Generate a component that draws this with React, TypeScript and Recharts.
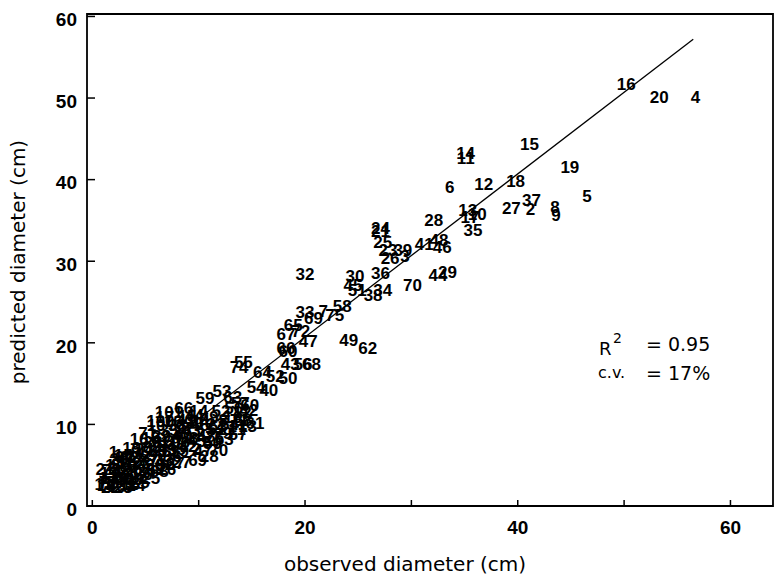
import React from 'react';
import { ScatterChart, Scatter, XAxis, YAxis, ReferenceLine, ReferenceArea } from 'recharts';

const AXIS_FONT = '"DejaVu Sans", sans-serif';
const TICK_FONT = '"Liberation Sans", Arial, sans-serif';
const LABEL_FONT = '"Liberation Sans", Arial, sans-serif';

// tree identifiers (printed as point labels)
const treeIds = [
  '16', '20', '4', '15', '19', '5', '18', '37', '27', '2', '8', '9', '14', '11', '6', '12', '13', '10', '17', '35',
  '28', '21', '24', '25', '23', '39', '26', '3', '41', '48', '46', '32', '30', '36', '45', '51', '38', '34', '70', '44',
  '29', '58', '33', '69', '7', '75', '65', '67', '72', '47', '66', '60', '49', '62', '55', '74', '43', '56', '68', '64',
  '52', '50', '54', '40', '53', '59', '63', '57', '42', '71', '31', '22', '76', '101', '100', '15', '25', '13', '12',
  '1', '19', '17', '11', '14', '13', '16', '12', '10', '18', '15', '20', '21', '22', '23', '24', '26', '27', '28', '30',
  '31', '32', '33', '34', '35', '36', '37', '38', '39', '40', '41', '42', '43', '44', '45', '46', '47', '48', '49', '50',
  '51', '52', '53', '54', '56', '57', '58', '60', '61', '10', '16', '64', '1', '66', '67', '68', '69', '70', '71',
  '77', '78', '79', '80', '81', '82', '83', '84', '85', '86', '87', '88', '89', '90', '91', '92', '93', '94', '95', '96',
  '97', '98', '99', '2', '3', '4', '5', '6', '7', '8', '9', '10', '11', '12', '13', '14', '15', '16', '17', '18',
  '19', '20', '21', '22', '23', '24', '25', '26', '27', '28',
];

// observed diameter (cm)
const observedDiameter = [
  50.2, 53.3, 56.7, 41.1, 44.9, 46.5, 39.8, 41.3, 39.4, 41.2, 43.5, 43.6, 35.1, 35.1, 33.6, 36.8, 35.3, 36.2, 35.5, 35.8,
  32.1, 27.1, 27.1, 27.3, 27.8, 29.2, 28.0, 29.4, 31.2, 32.6, 32.9, 20.0, 24.7, 27.1, 24.5, 24.9, 26.4, 27.3, 30.1, 32.5,
  33.4, 23.5, 20.0, 20.8, 21.7, 22.8, 18.9, 18.2, 19.6, 20.3, 18.2, 18.4, 24.1, 25.9, 14.2, 13.8, 18.6, 19.8, 20.6, 16.0,
  17.2, 18.4, 15.4, 16.6, 12.2, 10.6, 13.2, 13.9, 14.7, 13.8, 12.7, 11.6, 11.5, 7.2, 6.4, 2.9, 4.5, 1.1, 3.4,
  1.0, 1.3, 1.6, 1.9, 2.1, 2.3, 2.6, 2.8, 3.1, 3.3, 3.6, 3.8, 4.0, 4.3, 4.6, 4.9, 5.1, 5.4, 5.7, 5.9,
  6.2, 6.5, 6.7, 7.0, 7.2, 7.5, 7.7, 8.0, 8.2, 8.5, 8.8, 9.0, 9.3, 9.6, 9.8, 10.1, 10.4, 10.7, 11.0, 11.3,
  11.7, 12.1, 12.4, 12.9, 13.3, 13.7, 14.2, 14.8, 15.3, 6.0, 4.4, 3.0, 2.0, 8.6, 7.8, 6.3, 9.9, 11.9, 5.2,
  1.5, 1.8, 2.4, 2.7, 3.2, 3.5, 3.9, 4.2, 4.5, 4.8, 5.3, 5.6, 5.9, 6.1, 6.4, 6.9, 7.1, 7.4, 7.9, 8.3,
  8.7, 9.1, 9.5, 9.8, 10.2, 10.6, 10.9, 11.4, 11.8, 12.3, 12.7, 13.2, 13.6, 14.1, 14.6, 10.0, 8.9, 7.6, 6.8, 5.5,
  3.7, 2.5, 1.2, 1.7, 2.9, 4.1, 5.5, 7.0, 8.4, 11.0,
];

// predicted diameter (cm)
const predictedDiameter = [
  51.7, 50.2, 50.2, 44.4, 41.6, 38.0, 39.8, 37.5, 36.5, 36.4, 36.7, 35.7, 43.3, 42.7, 39.1, 39.5, 36.3, 35.8, 35.4, 33.8,
  35.1, 33.7, 34.1, 32.4, 31.4, 31.4, 30.4, 30.6, 32.1, 32.6, 31.8, 28.4, 28.2, 28.6, 27.1, 26.5, 25.9, 26.5, 27.1, 28.3,
  28.7, 24.5, 23.8, 23.1, 23.9, 23.4, 22.2, 21.1, 21.5, 20.2, 19.4, 19.0, 20.4, 19.4, 17.7, 17.1, 17.4, 17.4, 17.4, 16.4,
  15.9, 15.7, 14.6, 14.2, 14.1, 13.3, 13.4, 12.6, 11.8, 10.6, 9.8, 10.1, 8.5, 11.5, 10.4, 6.3, 2.9, 2.7, 2.7,
  3.4, 2.6, 4.1, 3.0, 5.0, 2.5, 3.8, 4.6, 3.3, 5.5, 2.7, 4.3, 6.2, 3.6, 5.3, 7.0, 4.4, 6.1, 7.9, 5.0,
  6.8, 8.6, 5.6, 7.4, 9.3, 6.2, 8.0, 10.0, 6.8, 8.7, 10.6, 7.4, 9.3, 11.2, 8.0, 9.9, 6.9, 8.6, 10.9, 7.7,
  9.4, 11.6, 8.2, 10.1, 12.0, 8.8, 10.5, 12.4, 10.2, 9.9, 8.2, 6.0, 6.6, 12.0, 5.3, 4.3, 5.6, 6.9, 9.0,
  3.0, 4.4, 3.4, 5.2, 4.0, 6.0, 3.3, 5.0, 6.6, 3.9, 5.6, 7.2, 4.6, 6.3, 7.9, 5.2, 6.9, 8.6, 7.0, 7.8,
  9.6, 8.3, 10.2, 7.0, 8.9, 10.4, 7.9, 9.8, 8.5, 10.6, 9.0, 10.9, 9.5, 11.5, 9.8, 11.6, 11.0, 10.4, 10.9, 8.4,
  7.1, 5.8, 4.5, 2.3, 2.4, 2.6, 3.5, 4.5, 5.4, 6.2,
];

const axisTicks = [0, 10, 20, 30, 40, 50, 60];
const xLabelTicks = [0, 20, 40, 60];
const xDomain: [number, number] = [-0.5, 64];
const yDomain: [number, number] = [0, 60.3];
const fitLineX = [1.5, 56.5];
const fitLineY = [2.2, 57.2];
const r2Value = '0.95';
const cvValue = '17%';
const xTitle = 'observed diameter (cm)';
const yTitle = 'predicted diameter (cm)';

const points = treeIds.map((id, i) => ({ id, x: observedDiameter[i], y: predictedDiameter[i] }));

const LabelShape = (props: any) => {
  const { cx, cy, payload } = props;
  return (
    <text x={cx} y={cy} dy="0.36em" textAnchor="middle" fontFamily={LABEL_FONT} fontSize={17}
      fontWeight="bold" fill="#000">
      {payload.id}
    </text>
  );
};

const X_MARGIN = 14;
const Y_MARGIN = 10;

const XTick = (props: any) => {
  const { x, y, payload } = props;
  const axisY = y - X_MARGIN;
  return (
    <g>
      <line x1={x} x2={x} y1={axisY} y2={axisY - 6} stroke="#000" strokeWidth={1.5} />
      {xLabelTicks.includes(payload.value) && (
        <text x={x} y={y} dy="0.72em" textAnchor="middle" fontFamily={TICK_FONT} fontSize={19}
          fontWeight="bold" fill="#000">
          {payload.value}
        </text>
      )}
    </g>
  );
};

const YTick = (props: any) => {
  const { x, y, payload } = props;
  const axisX = x + Y_MARGIN;
  return (
    <g>
      <line x1={axisX} x2={axisX + 8} y1={y} y2={y} stroke="#000" strokeWidth={1.5} />
      <text x={x} y={y + 3} dy="0.36em" textAnchor="end" fontFamily={TICK_FONT} fontSize={19}
        fontWeight="bold" fill="#000">
        {payload.value}
      </text>
    </g>
  );
};

export default function App() {
  return (
    <div style={{ position: 'absolute', left: 0, top: 0, width: 779, height: 583, background: '#fff' }}>
      <ScatterChart width={779} height={583} margin={{ top: 14, right: 6, bottom: 0, left: 0 }}>
        <XAxis type="number" dataKey="x" domain={xDomain} ticks={axisTicks} allowDataOverflow
          axisLine={false} tickLine={false} tickSize={0} tickMargin={X_MARGIN} height={77}
          tick={<XTick />} interval={0} />
        <YAxis type="number" dataKey="y" domain={yDomain} ticks={axisTicks} allowDataOverflow
          axisLine={false} tickLine={false} tickSize={0} tickMargin={Y_MARGIN} width={87}
          tick={<YTick />} interval={0} />
        <ReferenceArea x1={xDomain[0]} x2={xDomain[1]} y1={yDomain[0]} y2={yDomain[1]}
          fill="#fff" fillOpacity={0} stroke="#000" strokeWidth={1.8} />
        <ReferenceLine segment={[{ x: fitLineX[0], y: fitLineY[0] }, { x: fitLineX[1], y: fitLineY[1] }]}
          stroke="#000" strokeWidth={1.3} />
        <Scatter data={points} dataKey="y" shape={LabelShape} isAnimationActive={false} />
      </ScatterChart>
      <svg width={779} height={583} style={{ position: 'absolute', left: 0, top: 0, pointerEvents: 'none' }}>
        <text x={405} y={571} textAnchor="middle" fontFamily={AXIS_FONT} fontSize={20} fill="#000">{xTitle}</text>
        <text x={25} y={262} textAnchor="middle" fontFamily={AXIS_FONT} fontSize={20} fill="#000"
          transform="rotate(-90 25 262)">{yTitle}</text>
        <text x={599} y={355} fontFamily={AXIS_FONT} fontSize={18} fill="#000">R</text>
        <text x={613} y={343} fontFamily={AXIS_FONT} fontSize={14} fill="#000">2</text>
        <text x={646} y={351} fontFamily={AXIS_FONT} fontSize={19} fill="#000">{'= ' + r2Value}</text>
        <text x={598} y={378} fontFamily={AXIS_FONT} fontSize={16} fill="#000">c.v.</text>
        <text x={646} y={380} fontFamily={AXIS_FONT} fontSize={19} fill="#000">{'= ' + cvValue}</text>
      </svg>
    </div>
  );
}
